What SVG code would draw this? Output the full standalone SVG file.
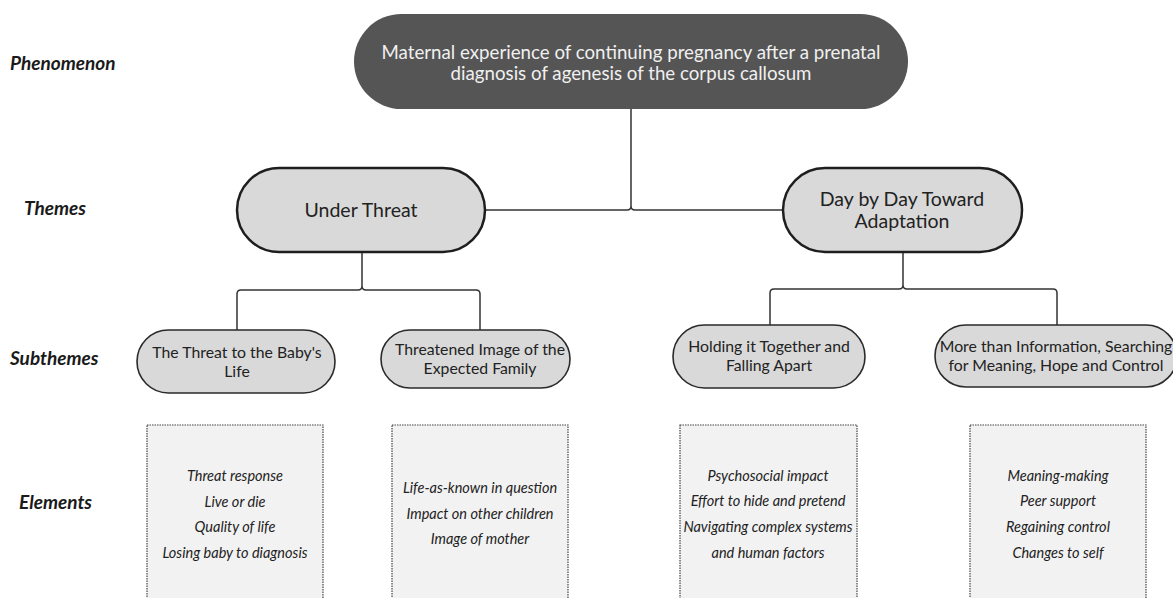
<svg xmlns="http://www.w3.org/2000/svg" width="1173" height="598" viewBox="0 0 1173 598">
<style>
.lbl{font-family:Lato,"Open Sans","Liberation Sans",sans-serif;font-weight:bold;font-style:italic;font-size:19px;fill:#1a1a1a}
.theme{fill:#d9d9d9;stroke:#1e1e1e;stroke-width:2.5}
.sub{fill:#d9d9d9;stroke:#2a2a2a;stroke-width:1.6}
.el{fill:#f2f2f2;stroke:#444;stroke-width:1.2;stroke-dasharray:1.5 1}
.t{font-family:Lato,"Open Sans","Liberation Sans",sans-serif;fill:#222;text-anchor:middle}
.it{font-family:Lato,"Open Sans","Liberation Sans",sans-serif;font-style:italic;font-size:14.5px;fill:#222;text-anchor:middle}
.conn{fill:none;stroke:#333;stroke-width:1.5}
</style>
<rect width="1173" height="598" fill="#fff"/>
<g id="labels">
<text class="lbl" x="10" y="70">Phenomenon</text>
<text class="lbl" x="24" y="215">Themes</text>
<text class="lbl" x="10" y="365">Subthemes</text>
<text class="lbl" x="19" y="509">Elements</text>
</g>
<g id="connectors">
<path class="conn" d="M485,210 H627 Q631,210 631,206 V109 M783,210 H635 Q631,210 631,206"/>
<path class="conn" d="M362,252 V286 Q362,290 358,290 H241 Q237,290 237,294 V330 M362,286 Q362,290 366,290 H476 Q480,290 480,294 V330"/>
<path class="conn" d="M903,252 V285 Q903,289 899,289 H774 Q770,289 770,293 V325 M903,285 Q903,289 907,289 H1053 Q1057,289 1057,293 V325"/>
</g>
<g id="phenomenon">
<rect x="354" y="14" width="554" height="95" rx="47.5" fill="#555555"/>
<text class="t" x="631" y="59" font-size="18.7" style="fill:#f0f0f0">Maternal experience of continuing pregnancy after a prenatal</text>
<text class="t" x="631" y="80" font-size="18.7" style="fill:#f0f0f0">diagnosis of agenesis of the corpus callosum</text>
</g>
<g id="theme-under-threat">
<rect class="theme" x="237" y="168" width="248" height="84" rx="42"/>
<text class="t" x="361" y="217" font-size="19.5">Under Threat</text>
</g>
<g id="theme-day-by-day">
<rect class="theme" x="783" y="168" width="239" height="84" rx="42"/>
<text class="t" x="902" y="206" font-size="19.5">Day by Day Toward</text>
<text class="t" x="902" y="228" font-size="19.5">Adaptation</text>
</g>
<g id="sub-threat-baby">
<rect class="sub" x="137" y="330" width="198" height="63" rx="31.5"/>
<text class="t" x="237" y="358" font-size="15.8">The Threat to the Baby's</text>
<text class="t" x="237" y="377" font-size="15.8">Life</text>
</g>
<g id="sub-threatened-image">
<rect class="sub" x="381" y="330" width="189" height="58" rx="29"/>
<text class="t" x="480" y="355" font-size="15.8">Threatened Image of the</text>
<text class="t" x="480" y="374" font-size="15.8">Expected Family</text>
</g>
<g id="sub-holding">
<rect class="sub" x="673" y="325" width="192" height="63" rx="31.5"/>
<text class="t" x="769" y="352" font-size="15.8">Holding it Together and</text>
<text class="t" x="769" y="371" font-size="15.8">Falling Apart</text>
</g>
<g id="sub-more-than-info">
<rect class="sub" x="935" y="325" width="242" height="62" rx="31"/>
<text class="t" x="1056" y="352" font-size="15.8">More than Information, Searching</text>
<text class="t" x="1056" y="371" font-size="15.8">for Meaning, Hope and Control</text>
</g>
<g id="el-1">
<rect class="el" x="147" y="425" width="176" height="180"/>
<text class="it" x="235" y="481">Threat response</text>
<text class="it" x="235" y="507">Live or die</text>
<text class="it" x="235" y="532">Quality of life</text>
<text class="it" x="235" y="558">Losing baby to diagnosis</text>
</g>
<g id="el-2">
<rect class="el" x="392" y="425" width="176" height="180"/>
<text class="it" x="480" y="493">Life-as-known in question</text>
<text class="it" x="480" y="519">Impact on other children</text>
<text class="it" x="480" y="544">Image of mother</text>
</g>
<g id="el-3">
<rect class="el" x="680" y="425" width="177" height="180"/>
<text class="it" x="768" y="481">Psychosocial impact</text>
<text class="it" x="768" y="506">Effort to hide and pretend</text>
<text class="it" x="768" y="532">Navigating complex systems</text>
<text class="it" x="768" y="558">and human factors</text>
</g>
<g id="el-4">
<rect class="el" x="970" y="425" width="176" height="180"/>
<text class="it" x="1058" y="481">Meaning-making</text>
<text class="it" x="1058" y="506">Peer support</text>
<text class="it" x="1058" y="532">Regaining control</text>
<text class="it" x="1058" y="558">Changes to self</text>
</g>
</svg>
